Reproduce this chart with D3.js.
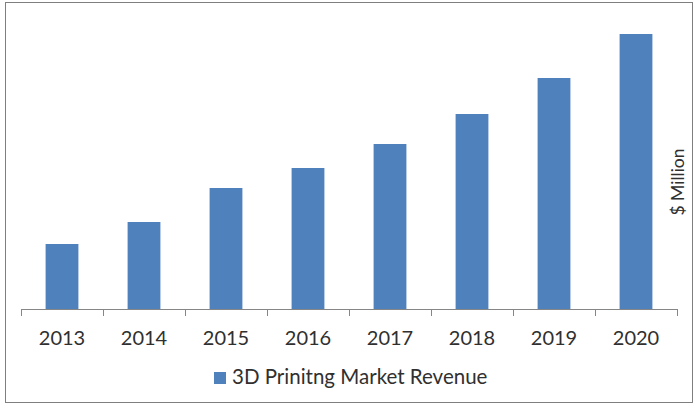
<!DOCTYPE html>
<html>
<head>
<meta charset="utf-8">
<script src="https://cdn.jsdelivr.net/npm/d3@7"></script>
<style>
  html, body { margin: 0; padding: 0; background: #ffffff; }
  svg { display: block; }
</style>
</head>
<body>
<svg id="chart" width="695" height="408"></svg>
<script>
// values (relative bar heights, no y ticks shown)
const years = ["2013", "2014", "2015", "2016", "2017", "2018", "2019", "2020"];
const revenue = [65, 87, 121, 141, 165, 195, 231, 275];
const seriesName = "3D Prinitng Market Revenue";
const yTitle = "$ Million";

const svg = d3.select("#chart");
const font = "Lato, 'Open Sans', sans-serif";
const barColor = "#4f81bd";
const textColor = "#303030";

// outer frame
svg.append("rect")
  .attr("x", 5.5).attr("y", 2.5)
  .attr("width", 687).attr("height", 400)
  .attr("fill", "#fff")
  .attr("stroke", "#7f7f7f")
  .attr("stroke-width", 1);

const left = 21, right = 677, base = 309;

const x = d3.scaleBand()
  .domain(years)
  .range([left, right])
  .paddingInner(0.6)
  .paddingOuter(0.3);

const y = d3.scaleLinear()
  .domain([0, 300])
  .range([base, base - 300]);

const data = years.map((yr, i) => ({ year: yr, value: revenue[i] }));

svg.append("g")
  .selectAll("rect")
  .data(data)
  .enter()
  .append("rect")
  .attr("x", d => x(d.year))
  .attr("y", d => y(d.value))
  .attr("width", x.bandwidth())
  .attr("height", d => base - y(d.value))
  .attr("fill", barColor);

// category axis with ticks between the categories
const step = (right - left) / years.length;
const axis = svg.append("g");
axis.append("line")
  .attr("x1", left).attr("x2", right)
  .attr("y1", base + 0.5).attr("y2", base + 0.5)
  .attr("stroke", "#868686");
axis.selectAll("line.tick")
  .data(d3.range(years.length + 1))
  .enter()
  .append("line")
  .attr("class", "tick")
  .attr("x1", i => Math.round(left + i * step) + 0.5)
  .attr("x2", i => Math.round(left + i * step) + 0.5)
  .attr("y1", base)
  .attr("y2", base + 7)
  .attr("stroke", "#868686");

axis.selectAll("text")
  .data(years)
  .enter()
  .append("text")
  .attr("x", d => x(d) + x.bandwidth() / 2)
  .attr("y", 345)
  .attr("text-anchor", "middle")
  .attr("font-family", font)
  .attr("font-size", 20)
  .attr("fill", textColor)
  .text(d => d);

// y title on the right
svg.append("text")
  .attr("transform", "translate(684,182) rotate(-90)")
  .attr("text-anchor", "middle")
  .attr("font-family", font)
  .attr("font-size", 17.5)
  .attr("fill", textColor)
  .text(yTitle);

// legend
const legend = svg.append("g");
legend.append("rect")
  .attr("x", 214).attr("y", 372)
  .attr("width", 12).attr("height", 12)
  .attr("fill", barColor);
legend.append("text")
  .attr("x", 232).attr("y", 384)
  .attr("font-family", font)
  .attr("font-size", 20.5)
  .attr("fill", textColor)
  .text(seriesName);
</script>
</body>
</html>
